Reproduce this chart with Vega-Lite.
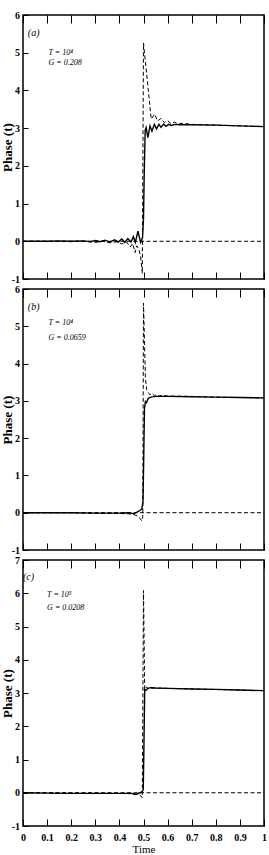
{
  "$schema": "https://vega.github.io/schema/vega-lite/v6.json",
  "padding": {"left": 0, "top": 9, "right": 4, "bottom": 1},
  "background": "white",
  "spacing": 10,
  "bounds": "flush",
  "config": {
    "view": {"stroke": "black", "strokeWidth": 1.5},
    "axis": {"domain": false, "grid": false, "tickCount": 30, "labelOverlap": false, "labelFlush": false, "tickColor": "black", "tickWidth": 1, "labelFont": "Liberation Serif", "labelFontWeight": "bold", "labelFontSize": 10, "labelColor": "black", "titleFont": "Liberation Serif", "titleColor": "black"}
  },
  "datasets": {
    "curves": [
      {"panel": "a", "series": "s", "t": 0, "phase": 0},
      {"panel": "a", "series": "s", "t": 0.05, "phase": 0},
      {"panel": "a", "series": "s", "t": 0.1, "phase": 0},
      {"panel": "a", "series": "s", "t": 0.15, "phase": 0.01},
      {"panel": "a", "series": "s", "t": 0.2, "phase": 0},
      {"panel": "a", "series": "s", "t": 0.25, "phase": 0.01},
      {"panel": "a", "series": "s", "t": 0.28, "phase": -0.01},
      {"panel": "a", "series": "s", "t": 0.3, "phase": 0.02},
      {"panel": "a", "series": "s", "t": 0.32, "phase": -0.01},
      {"panel": "a", "series": "s", "t": 0.34, "phase": 0.03},
      {"panel": "a", "series": "s", "t": 0.36, "phase": -0.02},
      {"panel": "a", "series": "s", "t": 0.38, "phase": 0.04},
      {"panel": "a", "series": "s", "t": 0.395, "phase": -0.02},
      {"panel": "a", "series": "s", "t": 0.41, "phase": 0.06},
      {"panel": "a", "series": "s", "t": 0.422, "phase": -0.03},
      {"panel": "a", "series": "s", "t": 0.435, "phase": 0.07},
      {"panel": "a", "series": "s", "t": 0.448, "phase": -0.02},
      {"panel": "a", "series": "s", "t": 0.458, "phase": 0.12},
      {"panel": "a", "series": "s", "t": 0.466, "phase": -0.03},
      {"panel": "a", "series": "s", "t": 0.477, "phase": 0.27},
      {"panel": "a", "series": "s", "t": 0.488, "phase": -0.03},
      {"panel": "a", "series": "s", "t": 0.496, "phase": 0.1},
      {"panel": "a", "series": "s", "t": 0.5, "phase": 0.6},
      {"panel": "a", "series": "s", "t": 0.503, "phase": 1.8},
      {"panel": "a", "series": "s", "t": 0.507, "phase": 2.95},
      {"panel": "a", "series": "s", "t": 0.511, "phase": 3.02},
      {"panel": "a", "series": "s", "t": 0.518, "phase": 2.75},
      {"panel": "a", "series": "s", "t": 0.527, "phase": 3.06},
      {"panel": "a", "series": "s", "t": 0.535, "phase": 2.92},
      {"panel": "a", "series": "s", "t": 0.545, "phase": 3.1},
      {"panel": "a", "series": "s", "t": 0.554, "phase": 2.98},
      {"panel": "a", "series": "s", "t": 0.564, "phase": 3.1},
      {"panel": "a", "series": "s", "t": 0.573, "phase": 3.02},
      {"panel": "a", "series": "s", "t": 0.583, "phase": 3.11},
      {"panel": "a", "series": "s", "t": 0.593, "phase": 3.05},
      {"panel": "a", "series": "s", "t": 0.605, "phase": 3.1},
      {"panel": "a", "series": "s", "t": 0.615, "phase": 3.07},
      {"panel": "a", "series": "s", "t": 0.63, "phase": 3.1},
      {"panel": "a", "series": "s", "t": 0.65, "phase": 3.09},
      {"panel": "a", "series": "s", "t": 0.7, "phase": 3.09},
      {"panel": "a", "series": "s", "t": 0.8, "phase": 3.08},
      {"panel": "a", "series": "s", "t": 0.9, "phase": 3.06},
      {"panel": "a", "series": "s", "t": 1.0, "phase": 3.04},

      {"panel": "a", "series": "d", "t": 0, "phase": 0},
      {"panel": "a", "series": "d", "t": 0.1, "phase": 0},
      {"panel": "a", "series": "d", "t": 0.2, "phase": -0.01},
      {"panel": "a", "series": "d", "t": 0.25, "phase": 0},
      {"panel": "a", "series": "d", "t": 0.3, "phase": -0.03},
      {"panel": "a", "series": "d", "t": 0.33, "phase": 0},
      {"panel": "a", "series": "d", "t": 0.36, "phase": -0.04},
      {"panel": "a", "series": "d", "t": 0.39, "phase": -0.01},
      {"panel": "a", "series": "d", "t": 0.41, "phase": -0.07},
      {"panel": "a", "series": "d", "t": 0.43, "phase": -0.02},
      {"panel": "a", "series": "d", "t": 0.445, "phase": -0.15},
      {"panel": "a", "series": "d", "t": 0.455, "phase": -0.06},
      {"panel": "a", "series": "d", "t": 0.465, "phase": -0.3},
      {"panel": "a", "series": "d", "t": 0.472, "phase": -0.12},
      {"panel": "a", "series": "d", "t": 0.48, "phase": -0.2},
      {"panel": "a", "series": "d", "t": 0.488, "phase": -0.4},
      {"panel": "a", "series": "d", "t": 0.495, "phase": -0.85},
      {"panel": "a", "series": "d", "t": 0.5, "phase": 5.26},
      {"panel": "a", "series": "d", "t": 0.532, "phase": 3.24},
      {"panel": "a", "series": "d", "t": 0.546, "phase": 3.37},
      {"panel": "a", "series": "d", "t": 0.559, "phase": 3.19},
      {"panel": "a", "series": "d", "t": 0.573, "phase": 3.26},
      {"panel": "a", "series": "d", "t": 0.586, "phase": 3.15},
      {"panel": "a", "series": "d", "t": 0.6, "phase": 3.2},
      {"panel": "a", "series": "d", "t": 0.614, "phase": 3.12},
      {"panel": "a", "series": "d", "t": 0.628, "phase": 3.16},
      {"panel": "a", "series": "d", "t": 0.645, "phase": 3.11},
      {"panel": "a", "series": "d", "t": 0.66, "phase": 3.13},
      {"panel": "a", "series": "d", "t": 0.7, "phase": 3.1},
      {"panel": "a", "series": "d", "t": 0.8, "phase": 3.08},
      {"panel": "a", "series": "d", "t": 0.9, "phase": 3.06},
      {"panel": "a", "series": "d", "t": 1.0, "phase": 3.04},
      {"panel": "a", "series": "r", "t": 0, "phase": 0},
      {"panel": "a", "series": "r", "t": 1, "phase": 0},

      {"panel": "b", "series": "s", "t": 0, "phase": 0},
      {"panel": "b", "series": "s", "t": 0.1, "phase": 0},
      {"panel": "b", "series": "s", "t": 0.2, "phase": 0},
      {"panel": "b", "series": "s", "t": 0.3, "phase": -0.01},
      {"panel": "b", "series": "s", "t": 0.4, "phase": -0.01},
      {"panel": "b", "series": "s", "t": 0.44, "phase": 0},
      {"panel": "b", "series": "s", "t": 0.46, "phase": -0.03},
      {"panel": "b", "series": "s", "t": 0.475, "phase": 0.02},
      {"panel": "b", "series": "s", "t": 0.485, "phase": 0.06},
      {"panel": "b", "series": "s", "t": 0.493, "phase": 0.1},
      {"panel": "b", "series": "s", "t": 0.498, "phase": 0.3},
      {"panel": "b", "series": "s", "t": 0.501, "phase": 1.5},
      {"panel": "b", "series": "s", "t": 0.504, "phase": 2.8},
      {"panel": "b", "series": "s", "t": 0.508, "phase": 2.98},
      {"panel": "b", "series": "s", "t": 0.512, "phase": 2.95},
      {"panel": "b", "series": "s", "t": 0.52, "phase": 3.07},
      {"panel": "b", "series": "s", "t": 0.53, "phase": 3.1},
      {"panel": "b", "series": "s", "t": 0.55, "phase": 3.12},
      {"panel": "b", "series": "s", "t": 0.6, "phase": 3.12},
      {"panel": "b", "series": "s", "t": 0.7, "phase": 3.11},
      {"panel": "b", "series": "s", "t": 0.8, "phase": 3.1},
      {"panel": "b", "series": "s", "t": 0.9, "phase": 3.09},
      {"panel": "b", "series": "s", "t": 1.0, "phase": 3.08},

      {"panel": "b", "series": "d", "t": 0, "phase": 0},
      {"panel": "b", "series": "d", "t": 0.2, "phase": 0},
      {"panel": "b", "series": "d", "t": 0.3, "phase": -0.01},
      {"panel": "b", "series": "d", "t": 0.4, "phase": -0.02},
      {"panel": "b", "series": "d", "t": 0.44, "phase": -0.03},
      {"panel": "b", "series": "d", "t": 0.46, "phase": -0.05},
      {"panel": "b", "series": "d", "t": 0.475, "phase": -0.09},
      {"panel": "b", "series": "d", "t": 0.485, "phase": -0.15},
      {"panel": "b", "series": "d", "t": 0.493, "phase": -0.22},
      {"panel": "b", "series": "d", "t": 0.497, "phase": -0.1},
      {"panel": "b", "series": "d", "t": 0.5, "phase": 5.62},
      {"panel": "b", "series": "d", "t": 0.508, "phase": 3.6},
      {"panel": "b", "series": "d", "t": 0.513, "phase": 3.3},
      {"panel": "b", "series": "d", "t": 0.52, "phase": 3.22},
      {"panel": "b", "series": "d", "t": 0.527, "phase": 3.16},
      {"panel": "b", "series": "d", "t": 0.535, "phase": 3.2},
      {"panel": "b", "series": "d", "t": 0.545, "phase": 3.14},
      {"panel": "b", "series": "d", "t": 0.555, "phase": 3.17},
      {"panel": "b", "series": "d", "t": 0.565, "phase": 3.13},
      {"panel": "b", "series": "d", "t": 0.58, "phase": 3.15},
      {"panel": "b", "series": "d", "t": 0.6, "phase": 3.13},
      {"panel": "b", "series": "d", "t": 0.7, "phase": 3.12},
      {"panel": "b", "series": "d", "t": 0.8, "phase": 3.1},
      {"panel": "b", "series": "d", "t": 0.9, "phase": 3.09},
      {"panel": "b", "series": "d", "t": 1.0, "phase": 3.08},
      {"panel": "b", "series": "r", "t": 0, "phase": 0},
      {"panel": "b", "series": "r", "t": 1, "phase": 0},

      {"panel": "c", "series": "s", "t": 0, "phase": 0},
      {"panel": "c", "series": "s", "t": 0.1, "phase": -0.01},
      {"panel": "c", "series": "s", "t": 0.2, "phase": -0.02},
      {"panel": "c", "series": "s", "t": 0.3, "phase": -0.02},
      {"panel": "c", "series": "s", "t": 0.4, "phase": -0.02},
      {"panel": "c", "series": "s", "t": 0.45, "phase": -0.02},
      {"panel": "c", "series": "s", "t": 0.465, "phase": -0.05},
      {"panel": "c", "series": "s", "t": 0.475, "phase": -0.03},
      {"panel": "c", "series": "s", "t": 0.485, "phase": 0},
      {"panel": "c", "series": "s", "t": 0.495, "phase": 0.03},
      {"panel": "c", "series": "s", "t": 0.499, "phase": 0.1},
      {"panel": "c", "series": "s", "t": 0.502, "phase": 1.5},
      {"panel": "c", "series": "s", "t": 0.505, "phase": 3.1},
      {"panel": "c", "series": "s", "t": 0.51, "phase": 3.08},
      {"panel": "c", "series": "s", "t": 0.518, "phase": 3.14},
      {"panel": "c", "series": "s", "t": 0.53, "phase": 3.16},
      {"panel": "c", "series": "s", "t": 0.55, "phase": 3.15},
      {"panel": "c", "series": "s", "t": 0.6, "phase": 3.14},
      {"panel": "c", "series": "s", "t": 0.7, "phase": 3.12},
      {"panel": "c", "series": "s", "t": 0.8, "phase": 3.11},
      {"panel": "c", "series": "s", "t": 0.9, "phase": 3.09},
      {"panel": "c", "series": "s", "t": 1.0, "phase": 3.07},

      {"panel": "c", "series": "d", "t": 0, "phase": 0},
      {"panel": "c", "series": "d", "t": 0.2, "phase": -0.01},
      {"panel": "c", "series": "d", "t": 0.4, "phase": -0.02},
      {"panel": "c", "series": "d", "t": 0.46, "phase": -0.03},
      {"panel": "c", "series": "d", "t": 0.48, "phase": -0.06},
      {"panel": "c", "series": "d", "t": 0.49, "phase": -0.1},
      {"panel": "c", "series": "d", "t": 0.495, "phase": -0.15},
      {"panel": "c", "series": "d", "t": 0.5, "phase": 6.08},
      {"panel": "c", "series": "d", "t": 0.505, "phase": 3.1},
      {"panel": "c", "series": "d", "t": 0.512, "phase": 3.18},
      {"panel": "c", "series": "d", "t": 0.52, "phase": 3.13},
      {"panel": "c", "series": "d", "t": 0.53, "phase": 3.15},
      {"panel": "c", "series": "d", "t": 0.6, "phase": 3.14},
      {"panel": "c", "series": "d", "t": 1.0, "phase": 3.07},
      {"panel": "c", "series": "r", "t": 0, "phase": 0},
      {"panel": "c", "series": "r", "t": 1, "phase": 0}
    ],
    "notes": [
      {"panel": "a", "kind": "tag", "t": 0.02, "phase": 5.51, "label": "(a)"},
      {"panel": "a", "kind": "param", "t": 0.106, "phase": 5.0, "label": "T = 10⁴"},
      {"panel": "a", "kind": "param", "t": 0.106, "phase": 4.72, "label": "G = 0.208"},
      {"panel": "b", "kind": "tag", "t": 0.02, "phase": 5.53, "label": "(b)"},
      {"panel": "b", "kind": "param", "t": 0.106, "phase": 5.08, "label": "T = 10⁴"},
      {"panel": "b", "kind": "param", "t": 0.106, "phase": 4.68, "label": "G = 0.0659"},
      {"panel": "c", "kind": "tag", "t": 0.0, "phase": 6.5, "label": "(c)"},
      {"panel": "c", "kind": "param", "t": 0.1, "phase": 5.95, "label": "T = 10⁵"},
      {"panel": "c", "kind": "param", "t": 0.1, "phase": 5.55, "label": "G = 0.0208"}
    ]
  },
  "vconcat": [
    {
      "width": 241, "height": 264,
      "resolve": {"axis": {"x": "independent"}},
      "layer": [
        {
          "data": {"name": "curves"},
          "transform": [{"filter": "datum.panel == 'a' && datum.series == 's'"}],
          "mark": {"type": "line", "color": "black", "strokeWidth": 1.4, "clip": true},
          "encoding": {
            "x": {"field": "t", "type": "quantitative", "scale": {"domain": [0, 1], "nice": false, "zero": false},
                  "axis": {"orient": "bottom", "values": [0, 0.1, 0.2, 0.3, 0.4, 0.5, 0.6, 0.7, 0.8, 0.9, 1], "tickCount": 30, "tickSize": -7, "labels": false, "title": null}},
            "y": {"field": "phase", "type": "quantitative", "scale": {"domain": [-1, 6], "nice": false, "zero": false},
                  "axis": {"values": [-1, 0, 1, 2, 3, 4, 5, 6], "tickCount": 30, "labelOverlap": false, "tickSize": -5, "labelPadding": 8.5, "title": "Phase (t)", "titleFontSize": 13, "titleFontWeight": "bold", "titlePadding": -3, "labelExpr": "datum.value < 0 ? '-' + abs(datum.value) : '' + datum.value"}}
          }
        },
        {
          "data": {"name": "curves"},
          "transform": [{"filter": "datum.panel == 'a' && datum.series != 's'"}],
          "mark": {"type": "line", "color": "black", "strokeWidth": 1, "strokeDash": [4, 2.5], "clip": true},
          "encoding": {
            "x": {"field": "t", "type": "quantitative", "axis": null},
            "y": {"field": "phase", "type": "quantitative"},
            "detail": {"field": "series"}
          }
        },
        {
          "data": {"name": "notes"},
          "transform": [{"filter": "datum.panel == 'a' && datum.kind == 'tag'"}],
          "mark": {"type": "text", "align": "left", "baseline": "middle", "font": "Liberation Serif", "fontStyle": "italic", "fontSize": 10, "color": "black"},
          "encoding": {
            "x": {"field": "t", "type": "quantitative",
                  "axis": {"orient": "top", "values": [0, 0.1, 0.2, 0.3, 0.4, 0.5, 0.6, 0.7, 0.8, 0.9, 1], "tickCount": 30, "tickSize": -8, "labels": false, "title": null}},
            "y": {"field": "phase", "type": "quantitative"},
            "text": {"field": "label"}
          }
        },
        {
          "data": {"name": "notes"},
          "transform": [{"filter": "datum.panel == 'a' && datum.kind == 'param'"}],
          "mark": {"type": "text", "align": "left", "baseline": "middle", "font": "Liberation Serif", "fontStyle": "italic", "fontSize": 8, "color": "black"},
          "encoding": {
            "x": {"field": "t", "type": "quantitative", "axis": null},
            "y": {"field": "phase", "type": "quantitative"},
            "text": {"field": "label"}
          }
        }
      ]
    },
    {
      "width": 241, "height": 261,
      "resolve": {"axis": {"x": "independent"}},
      "layer": [
        {
          "data": {"name": "curves"},
          "transform": [{"filter": "datum.panel == 'b' && datum.series == 's'"}],
          "mark": {"type": "line", "color": "black", "strokeWidth": 1.4, "clip": true},
          "encoding": {
            "x": {"field": "t", "type": "quantitative", "scale": {"domain": [0, 1], "nice": false, "zero": false},
                  "axis": {"orient": "bottom", "values": [0, 0.1, 0.2, 0.3, 0.4, 0.5, 0.6, 0.7, 0.8, 0.9, 1], "tickCount": 30, "tickSize": -7, "labels": false, "title": null}},
            "y": {"field": "phase", "type": "quantitative", "scale": {"domain": [-1, 6], "nice": false, "zero": false},
                  "axis": {"values": [-1, 0, 1, 2, 3, 4, 5, 6], "tickCount": 30, "labelOverlap": false, "tickSize": -5, "labelPadding": 8.5, "title": "Phase (t)", "titleFontSize": 13, "titleFontWeight": "bold", "titlePadding": -3, "labelExpr": "datum.value < 0 ? '-' + abs(datum.value) : '' + datum.value"}}
          }
        },
        {
          "data": {"name": "curves"},
          "transform": [{"filter": "datum.panel == 'b' && datum.series != 's'"}],
          "mark": {"type": "line", "color": "black", "strokeWidth": 1, "strokeDash": [4, 2.5], "clip": true},
          "encoding": {
            "x": {"field": "t", "type": "quantitative", "axis": null},
            "y": {"field": "phase", "type": "quantitative"},
            "detail": {"field": "series"}
          }
        },
        {
          "data": {"name": "notes"},
          "transform": [{"filter": "datum.panel == 'b' && datum.kind == 'tag'"}],
          "mark": {"type": "text", "align": "left", "baseline": "middle", "font": "Liberation Serif", "fontStyle": "italic", "fontSize": 10, "color": "black"},
          "encoding": {
            "x": {"field": "t", "type": "quantitative",
                  "axis": {"orient": "top", "values": [0, 0.1, 0.2, 0.3, 0.4, 0.5, 0.6, 0.7, 0.8, 0.9, 1], "tickCount": 30, "tickSize": -8, "labels": false, "title": null}},
            "y": {"field": "phase", "type": "quantitative"},
            "text": {"field": "label"}
          }
        },
        {
          "data": {"name": "notes"},
          "transform": [{"filter": "datum.panel == 'b' && datum.kind == 'param'"}],
          "mark": {"type": "text", "align": "left", "baseline": "middle", "font": "Liberation Serif", "fontStyle": "italic", "fontSize": 8, "color": "black"},
          "encoding": {
            "x": {"field": "t", "type": "quantitative", "axis": null},
            "y": {"field": "phase", "type": "quantitative"},
            "text": {"field": "label"}
          }
        }
      ]
    },
    {
      "width": 241, "height": 266,
      "resolve": {"axis": {"x": "independent"}},
      "layer": [
        {
          "data": {"name": "curves"},
          "transform": [{"filter": "datum.panel == 'c' && datum.series == 's'"}],
          "mark": {"type": "line", "color": "black", "strokeWidth": 1.4, "clip": true},
          "encoding": {
            "x": {"field": "t", "type": "quantitative", "scale": {"domain": [0, 1], "nice": false, "zero": false},
                  "axis": {"orient": "bottom", "values": [0, 0.1, 0.2, 0.3, 0.4, 0.5, 0.6, 0.7, 0.8, 0.9, 1], "tickCount": 30, "tickSize": -7, "labelPadding": 13.5, "format": "~g", "title": "Time", "titleFontSize": 11, "titleFontWeight": "normal", "titlePadding": 1}},
            "y": {"field": "phase", "type": "quantitative", "scale": {"domain": [-1, 7], "nice": false, "zero": false},
                  "axis": {"values": [-1, 0, 1, 2, 3, 4, 5, 6, 7], "tickCount": 30, "labelOverlap": false, "tickSize": -5, "labelPadding": 8.5, "title": "Phase (t)", "titleFontSize": 13, "titleFontWeight": "bold", "titlePadding": -3, "labelExpr": "datum.value < 0 ? '-' + abs(datum.value) : '' + datum.value"}}
          }
        },
        {
          "data": {"name": "curves"},
          "transform": [{"filter": "datum.panel == 'c' && datum.series != 's'"}],
          "mark": {"type": "line", "color": "black", "strokeWidth": 1, "strokeDash": [4, 2.5], "clip": true},
          "encoding": {
            "x": {"field": "t", "type": "quantitative", "axis": null},
            "y": {"field": "phase", "type": "quantitative"},
            "detail": {"field": "series"}
          }
        },
        {
          "data": {"name": "notes"},
          "transform": [{"filter": "datum.panel == 'c' && datum.kind == 'tag'"}],
          "mark": {"type": "text", "align": "left", "baseline": "middle", "font": "Liberation Serif", "fontStyle": "italic", "fontSize": 10, "color": "black"},
          "encoding": {
            "x": {"field": "t", "type": "quantitative",
                  "axis": {"orient": "top", "values": [0, 0.1, 0.2, 0.3, 0.4, 0.5, 0.6, 0.7, 0.8, 0.9, 1], "tickCount": 30, "tickSize": -8, "labels": false, "title": null}},
            "y": {"field": "phase", "type": "quantitative"},
            "text": {"field": "label"}
          }
        },
        {
          "data": {"name": "notes"},
          "transform": [{"filter": "datum.panel == 'c' && datum.kind == 'param'"}],
          "mark": {"type": "text", "align": "left", "baseline": "middle", "font": "Liberation Serif", "fontStyle": "italic", "fontSize": 8, "color": "black"},
          "encoding": {
            "x": {"field": "t", "type": "quantitative", "axis": null},
            "y": {"field": "phase", "type": "quantitative"},
            "text": {"field": "label"}
          }
        }
      ]
    }
  ]
}
